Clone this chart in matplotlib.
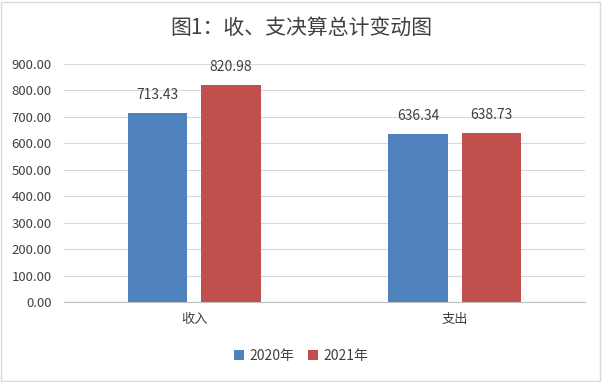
import matplotlib.pyplot as plt
from matplotlib.patches import Rectangle
import numpy as np

plt.rcParams['font.family'] = ['Noto Sans CJK SC', 'DejaVu Sans']

categories = ['收入', '支出']
series_names = ['2020年', '2021年']
values_2020 = [713.43, 636.34]
values_2021 = [820.98, 638.73]
colors = ['#4f81bd', '#c0504d']

fig = plt.figure(figsize=(6.02, 3.82), dpi=100)
fig.patches.append(Rectangle((0.002, 0.003), 0.995, 0.993, transform=fig.transFigure,
                             fill=False, edgecolor='#d9d9d9', linewidth=1))
ax = fig.add_axes([64/602, 1 - 302/382, 521/602, 238/382])

x = np.arange(len(categories))
w = 0.227
off = 0.141
b1 = ax.bar(x - off, values_2020, w, color=colors[0], label=series_names[0])
b2 = ax.bar(x + off, values_2021, w, color=colors[1], label=series_names[1])
for bars in (b1, b2):
    for r in bars:
        ax.annotate(f'{r.get_height():.2f}', (r.get_x() + r.get_width()/2, r.get_height()),
                    xytext=(0, 8), textcoords='offset points', ha='center', va='bottom',
                    fontsize=10, color='#404040')

ax.set_xlim(-0.5, 1.5)
ax.set_ylim(0, 900)
ax.set_yticks(np.arange(0, 901, 100))
ax.set_yticklabels([f'{v:.2f}' for v in np.arange(0, 901, 100)])
ax.set_xticks(x)
ax.set_xticklabels(categories)
ax.yaxis.grid(True, color='#d9d9d9', linewidth=0.8)
ax.set_axisbelow(True)
for s in ['top', 'right', 'left']:
    ax.spines[s].set_visible(False)
ax.spines['bottom'].set_color('#bfbfbf')
ax.tick_params(axis='y', length=0, labelsize=9.5, labelcolor='#404040', pad=9)
ax.tick_params(axis='x', length=0, labelsize=9.5, labelcolor='#404040', pad=8)

fig.text(0.5, 1 - 28/382, '图1：收、支决算总计变动图', ha='center', va='center',
         fontsize=15, color='#404040')
fig.legend(loc='center', bbox_to_anchor=(0.5, 1 - 356/382), ncol=2, frameon=False,
           fontsize=10, handlelength=0.7, handleheight=0.7, columnspacing=1.0,
           handletextpad=0.4, labelcolor='#404040')

fig.savefig('out.png', dpi=100)
